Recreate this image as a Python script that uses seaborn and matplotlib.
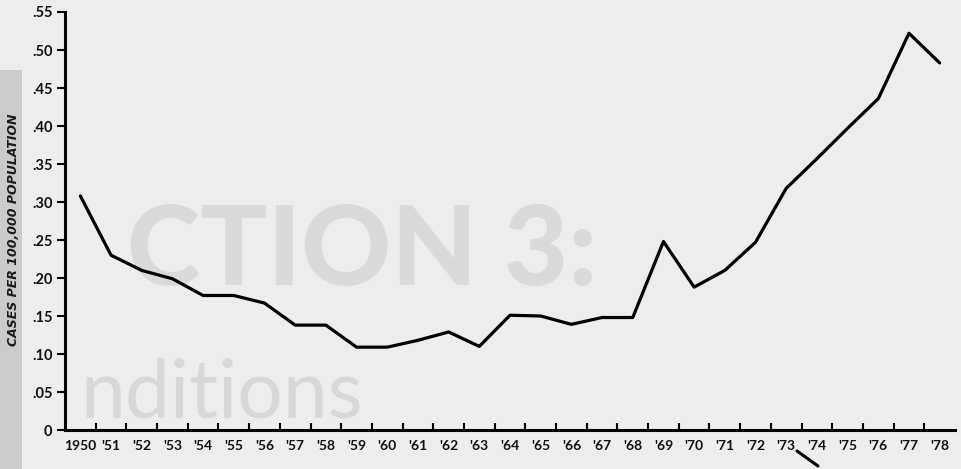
import numpy as np
import pandas as pd
import matplotlib
matplotlib.use("Agg")
import matplotlib.pyplot as plt
from matplotlib.lines import Line2D
from matplotlib.patches import Rectangle
import seaborn as sns

# Cases per 100,000 population, 1950-1978
years = list(range(1950, 1979))
rates = [0.308, 0.230, 0.210, 0.199, 0.177, 0.177, 0.167, 0.138, 0.138, 0.109,
         0.109, 0.118, 0.129, 0.110, 0.151, 0.150, 0.139, 0.148, 0.148, 0.248,
         0.188, 0.210, 0.247, 0.318, 0.357, 0.397, 0.436, 0.522, 0.483]
year_labels = ["1950"] + ["'" + str(y)[2:] for y in years[1:]]
y_ticks = [0, 0.05, 0.10, 0.15, 0.20, 0.25, 0.30, 0.35, 0.40, 0.45, 0.50, 0.55]
y_tick_labels = ["0", ".05", ".10", ".15", ".20", ".25", ".30", ".35", ".40", ".45", ".50", ".55"]
y_title = "CASES PER 100,000 POPULATION"

df = pd.DataFrame({"year": years, "rate": rates})

sns.set_theme(style="white")
plt.rcParams["font.family"] = ["Lato", "DejaVu Sans"]

W, H = 961, 469
fig = plt.figure(figsize=(W / 100, H / 100), dpi=100)
fig.patch.set_facecolor("#ededed")

# paper tone: darker strip along the left edge
fig.add_artist(Rectangle((0, 0), 22 / W, (H - 70) / H, transform=fig.transFigure,
                         facecolor="#cbcbcb", edgecolor="none", zorder=0))

ax = fig.add_axes([65 / W, (H - 430) / H, (955 - 65) / W, (430 - 12) / H])
ax.set_facecolor("none")

# faint print showing through from the reverse side of the page
ax.text(0.07, 0.347, "CTION 3:", transform=ax.transAxes, fontsize=80,
        fontweight="black", color="#dadada", ha="left", va="baseline",
        family=["Lato", "DejaVu Sans"], zorder=0)
ax.text(0.017, 0.031, "nditions", transform=ax.transAxes, fontsize=58,
        fontweight="normal", color="#d8d8d8", ha="left", va="baseline",
        family=["Lato", "DejaVu Sans"], zorder=0)

sns.lineplot(data=df, x="year", y="rate", ax=ax, color="black", linewidth=2.3,
             zorder=3)

ax.set_xlim(years[0] - 0.5, years[-1] + 0.5)
ax.set_ylim(0, 0.55)

ax.set_xticks(years)
ax.set_xticklabels(year_labels, fontsize=10, fontweight="bold", color="#111111")
ax.set_xticks([y + 0.5 for y in years[:-1]], minor=True)
ax.tick_params(axis="x", which="major", length=0, pad=7)
ax.tick_params(axis="x", which="minor", length=5, width=1.5, direction="in",
               color="black", bottom=True)

ax.set_yticks(y_ticks)
ax.set_yticklabels(y_tick_labels, fontsize=10.5, fontweight="bold", color="#111111")
ax.tick_params(axis="y", which="major", length=6, width=1.5, direction="out",
               color="black", left=True, pad=3)

ax.set_xlabel("")
ax.set_ylabel("")
fig.text(14 / W, (H - 230) / H, y_title, rotation=90, ha="center", va="center",
         fontsize=9, fontweight="bold", style="italic", color="#1a1a1a",
         family=["DejaVu Sans"])

for side in ["top", "right"]:
    ax.spines[side].set_visible(False)
for side in ["left", "bottom"]:
    ax.spines[side].set_color("black")
    ax.spines[side].set_linewidth(2.2)

# pen stroke below the axis
fig.add_artist(Line2D([797 / W, 818 / W], [(H - 451) / H, (H - 466) / H],
                      transform=fig.transFigure, color="black", linewidth=2.2))

fig.savefig("out.png", dpi=100, facecolor=fig.get_facecolor())
